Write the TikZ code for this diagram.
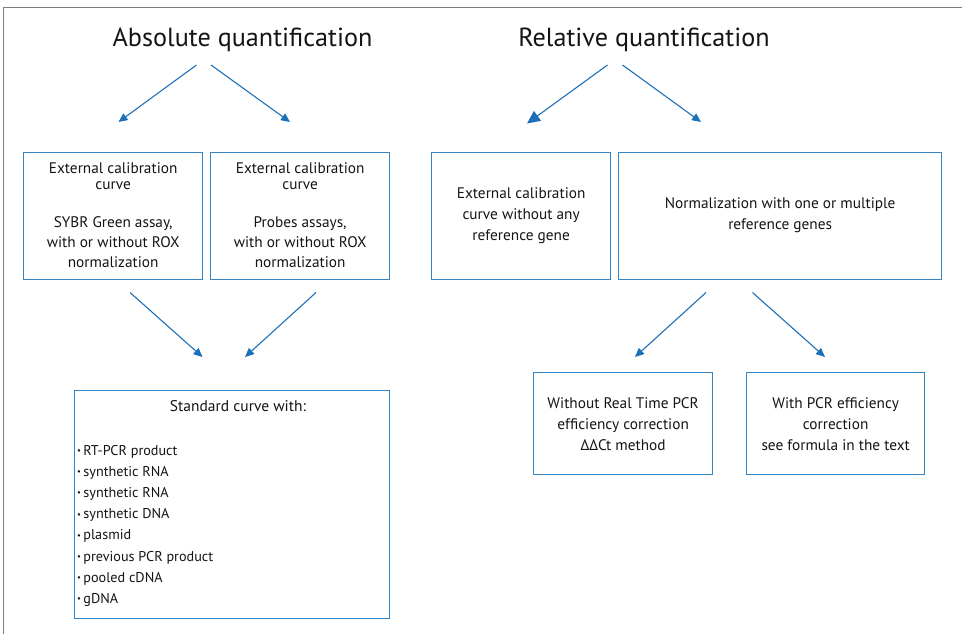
\documentclass[tikz,border=0pt]{standalone}
\usepackage{fontspec}
\setmainfont{PT Sans}
\usetikzlibrary{arrows.meta}
\definecolor{boxblue}{RGB}{52,134,196}
\definecolor{arrblue}{RGB}{28,112,184}
\definecolor{framegray}{RGB}{125,125,125}
\definecolor{txt}{RGB}{20,20,20}
\begin{document}
\begin{tikzpicture}[x=1pt,y=-1pt,
  box/.style={draw=boxblue, line width=1.3pt, inner sep=0pt, align=center, text=txt,
              font=\fontsize{15.3}{21}\selectfont, anchor=north west},
  arr/.style={draw=arrblue, line width=1.1pt, -{Triangle[length=9pt,width=8pt]}},
  bigarr/.style={arr, -{Triangle[length=13pt,width=12pt]}},
  ttl/.style={font=\fontsize{26.2}{30}\selectfont, text=txt, inner sep=0pt, anchor=base},
  item/.style={font=\fontsize{14.2}{21}\selectfont, text=txt, inner sep=0pt, anchor=base west}]
\useasboundingbox (0,0) rectangle (962,634);
\draw[framegray, line width=1.5pt] (3.5,634) -- (3.5,7.5) -- (962,7.5);

% titles
\node[ttl] (absT) at (242.5,46.5) {Absolute quantification};
\node[ttl] (relT) at (644,46.5) {Relative quantification};

% absolute boxes
\node[box, minimum width=179pt, minimum height=127pt, font=\fontsize{15.3}{20}\selectfont] (a1) at (23,151.5)
  {External calibration\\[-4pt]curve\\[18pt]SYBR Green assay,\\with or without ROX\\normalization};
\node[box, minimum width=179pt, minimum height=127pt, font=\fontsize{15.3}{20}\selectfont] (a2) at (210,151.5)
  {External calibration\\[-4pt]curve\\[18pt]Probes assays,\\with or without ROX\\normalization};
\node[box, minimum width=315pt, minimum height=228pt] (std) at (74,390) {};
\node[font=\fontsize{15.5}{21}\selectfont, text=txt, inner sep=0pt, anchor=base] (stdT) at (238,411.5) {Standard curve with:};
\foreach \t [count=\i] in {RT-PCR product, synthetic RNA, synthetic RNA, synthetic DNA, plasmid, previous PCR product, pooled cDNA, gDNA}
  \node[item] (li\i) at (77,433.8+21.2*\i) {\raisebox{1.5pt}{\fontsize{8.5}{8}\selectfont•}\,\t};

% relative boxes
\node[box, minimum width=179pt, minimum height=127pt] (r1) at (431,151.5)
  {External calibration\\curve without any\\reference gene};
\node[box, minimum width=323pt, minimum height=127pt] (r2) at (618,151.5)
  {Normalization with one or multiple\\reference genes};
\node[box, minimum width=179pt, minimum height=102pt] (r3) at (533,372)
  {Without Real Time PCR\\efficiency correction\\ΔΔCt method};
\node[box, minimum width=178pt, minimum height=102pt] (r4) at (746,372)
  {With PCR efficiency\\correction\\see formula in the text};

% arrow end points
\coordinate (s1) at (196.5,65);  \coordinate (e1) at (118.5,122);
\coordinate (s2) at (211,65);    \coordinate (e2) at (290,122);
\coordinate (s3) at (607.5,65);  \coordinate (e3) at (527,123.5);
\coordinate (s4) at (622.5,65);  \coordinate (e4) at (701,122);
\coordinate (s5) at (130,292.5); \coordinate (e5) at (202.5,357);
\coordinate (s6) at (316,292.5); \coordinate (e6) at (245,357);
\coordinate (s7) at (706,292.5); \coordinate (e7) at (635,357);
\coordinate (s8) at (752.5,292.5); \coordinate (e8) at (825,357);

\draw[arr] (s1) -- (e1);
\draw[arr] (s2) -- (e2);
\draw[bigarr] (s3) -- (e3);
\draw[arr] (s4) -- (e4);
\draw[arr] (s5) -- (e5);
\draw[arr] (s6) -- (e6);
\draw[arr] (s7) -- (e7);
\draw[arr] (s8) -- (e8);
\end{tikzpicture}
\end{document}
